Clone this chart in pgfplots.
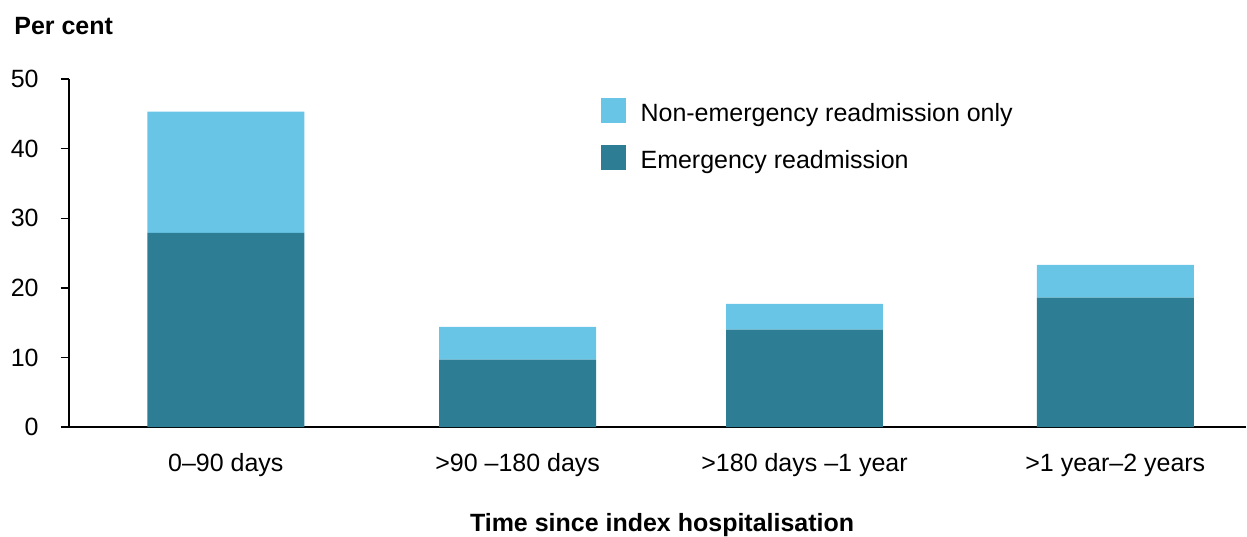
\documentclass[border=0pt]{standalone}
\usepackage{fontspec}
\setmainfont{Liberation Sans}
\usepackage{pgfplots}
\pgfplotsset{compat=1.18}
\definecolor{emerg}{HTML}{2D7D95}
\definecolor{nonemerg}{HTML}{68C5E5}
\newcommand{\chartfont}{\fontsize{12.5bp}{15bp}\selectfont}

\begin{document}
\chartfont
\begin{tikzpicture}
\begin{axis}[
    name=ax,
    at={(0,0)}, anchor=south west,
    width=589bp, height=174.25bp,
    scale only axis,
    ybar stacked,
    bar width=157,
    xmin=69, xmax=1247,
    ymin=0, ymax=50,
    clip=false,
    axis x line*=bottom,
    axis y line*=left,
    axis line style={black, line width=0.75bp, -},
    xtick={226,518,805,1116},
    xticklabels={0–90 days, >90 –180 days, >180 days –1 year, >1 year–2 years},
    xtick style={draw=none},
    ytick={0,10,20,30,40,50},
    ytick align=outside,
    major tick length=4bp,
    ytick style={black, line width=0.75bp},
    /pgf/number format/assume math mode=true,
    x tick label style={font=\chartfont, anchor=base, inner sep=0pt, yshift=-22.25bp},
    y tick label style={font=\chartfont, anchor=east, inner sep=0pt, xshift=-11bp},
    reverse legend,
    legend image code/.code={\fill[#1] (0bp,-0.75bp) rectangle (12.5bp,11.75bp); \path (20bp,0bp);},
    legend style={draw=none, fill=none, inner sep=0pt, outer sep=0pt,
        at={(rel axis cs:0.4516,0.9454)}, anchor=north west,
        font=\chartfont, row sep=9.85bp,
        nodes={inner sep=0pt, anchor=base west}},
    legend cell align=left,
]
\addplot[fill=emerg, draw=none] coordinates {
    (226,27.9) (518,9.7) (805,14.0) (1116,18.6)
};
\addlegendentry{Emergency readmission}
\addplot[fill=nonemerg, draw=none] coordinates {
    (226,17.4) (518,4.7) (805,3.7) (1116,4.7)
};
\addlegendentry{Non-emergency readmission only}
\node[anchor=base west, inner sep=0pt, font=\chartfont\bfseries, xshift=-27.5bp, yshift=22bp]
    at (rel axis cs:0,1) {Per cent};
\node[anchor=base, inner sep=0pt, font=\chartfont\bfseries, yshift=-52.25bp]
    at (rel axis cs:0.5038,0) {Time since index hospitalisation};
\end{axis}
\path (ax.south west) ++(-34.5bp,-54.25bp) rectangle ([xshift=0bp,yshift=39.5bp]ax.north east);
\end{tikzpicture}
\end{document}
